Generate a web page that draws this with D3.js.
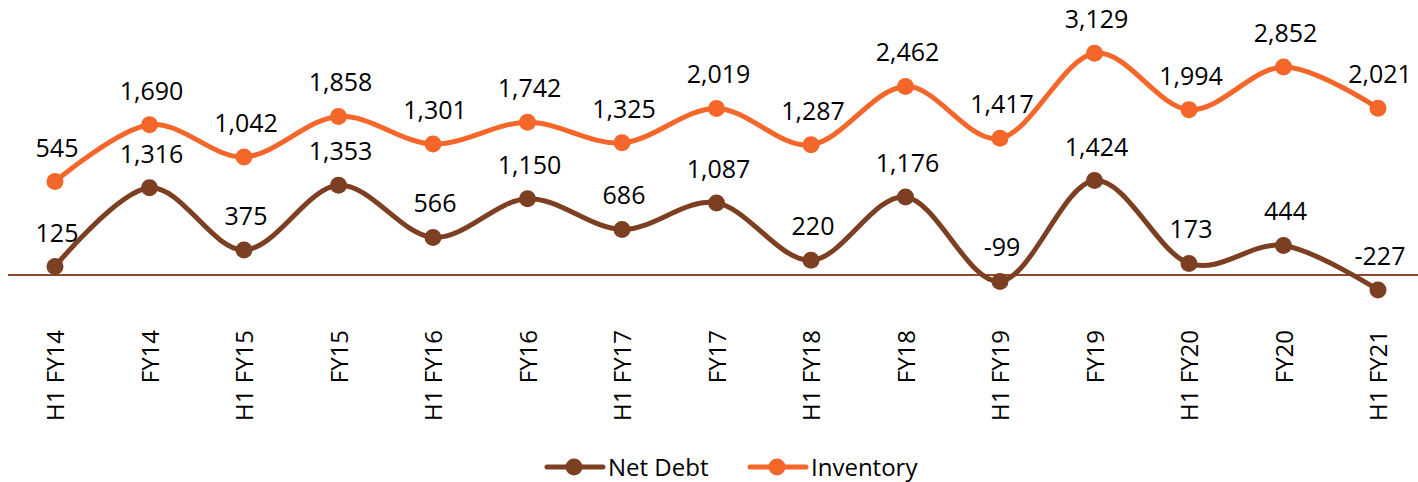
<!DOCTYPE html>
<html>
<head>
<meta charset="utf-8">
<script src="https://cdnjs.cloudflare.com/ajax/libs/d3/7.8.5/d3.min.js"></script>
<style>
  html, body { margin: 0; padding: 0; background: #ffffff; }
  svg { display: block; font-family: "Open Sans", "Noto Sans", sans-serif; }
</style>
</head>
<body>
<svg id="chart" width="1418" height="482"></svg>
<script>
// Half-year periods
const periods = ["H1 FY14", "FY14", "H1 FY15", "FY15", "H1 FY16", "FY16", "H1 FY17", "FY17",
                 "H1 FY18", "FY18", "H1 FY19", "FY19", "H1 FY20", "FY20", "H1 FY21"];

// Net Debt (primary axis)
const netDebt = [125, 1316, 375, 1353, 566, 1150, 686, 1087, 220, 1176, -99, 1424, 173, 444, -227];

// Inventory (secondary axis)
const inventory = [545, 1690, 1042, 1858, 1301, 1742, 1325, 2019, 1287, 2462, 1417, 3129, 1994, 2852, 2021];

// Hidden axis ranges
const primaryDomain = [-500, 4000];
const secondaryDomain = [-2000, 4000];

const seriesNames = ["Net Debt", "Inventory"];

const colors = { "Net Debt": "#7C3F22", "Inventory": "#F4662A" };

const svg = d3.select("#chart");
const plotTop = 10, plotBottom = 308;

const x = d3.scalePoint().domain(periods).range([55, 1378]);
const yPrimary = d3.scaleLinear().domain(primaryDomain).range([plotBottom, plotTop]);
const ySecondary = d3.scaleLinear().domain(secondaryDomain).range([plotBottom, plotTop]);

// Thousands separator with a plain hyphen for negatives
const fmt = d3.formatLocale({ decimal: ".", thousands: ",", grouping: [3], currency: ["", ""], minus: "-" }).format(",");

// Zero line of the category axis
svg.append("line")
  .attr("x1", 8).attr("x2", 1418)
  .attr("y1", yPrimary(0)).attr("y2", yPrimary(0))
  .attr("stroke", "#8B4A2B").attr("stroke-width", 2);

// Category labels, rotated
const xAxis = d3.axisBottom(x).tickSize(0).tickPadding(0);
const axisG = svg.append("g").attr("transform", `translate(0, 330)`).call(xAxis);
axisG.select(".domain").remove();
axisG.selectAll("text")
  .attr("transform", "rotate(-90)")
  .attr("x", 0).attr("y", 0).attr("dy", "0.36em").attr("dx", 0)
  .attr("text-anchor", "end")
  .attr("font-size", 24)
  .attr("font-family", "'Open Sans', 'Noto Sans', sans-serif")
  .attr("fill", "#000");

const series = [
  { name: "Net Debt", values: netDebt, y: yPrimary },
  { name: "Inventory", values: inventory, y: ySecondary }
];

const line = (s) => d3.line()
  .x((d, i) => x(periods[i]))
  .y(d => s.y(d))
  .curve(d3.curveCatmullRom.alpha(0));

series.forEach(s => {
  const g = svg.append("g");
  g.append("path")
    .datum(s.values)
    .attr("d", line(s))
    .attr("fill", "none")
    .attr("stroke", colors[s.name])
    .attr("stroke-width", 5)
    .attr("stroke-linecap", "round");
  g.selectAll("circle")
    .data(s.values)
    .join("circle")
    .attr("cx", (d, i) => x(periods[i]))
    .attr("cy", d => s.y(d))
    .attr("r", 8.5)
    .attr("fill", colors[s.name]);
  g.selectAll("text")
    .data(s.values)
    .join("text")
    .attr("x", (d, i) => x(periods[i]) + 2)
    .attr("y", d => s.y(d) - 25)
    .attr("text-anchor", "middle")
    .attr("font-size", 25)
    .attr("fill", "#000")
    .text(d => fmt(d));
});

// Legend
const legendItems = [
  { name: seriesNames[0], x: 547 },
  { name: seriesNames[1], x: 750 }
];
const legend = svg.append("g").attr("transform", "translate(0, 467)");
legendItems.forEach(item => {
  const lg = legend.append("g").attr("transform", `translate(${item.x}, 0)`);
  lg.append("line")
    .attr("x1", 0).attr("x2", 56).attr("y1", 0).attr("y2", 0)
    .attr("stroke", colors[item.name]).attr("stroke-width", 5)
    .attr("stroke-linecap", "round");
  lg.append("circle")
    .attr("cx", 27).attr("cy", 0).attr("r", 8.5)
    .attr("fill", colors[item.name]);
  lg.append("text")
    .attr("x", 61).attr("y", 9)
    .attr("font-size", 24)
    .attr("fill", "#000")
    .text(item.name);
});
</script>
</body>
</html>
